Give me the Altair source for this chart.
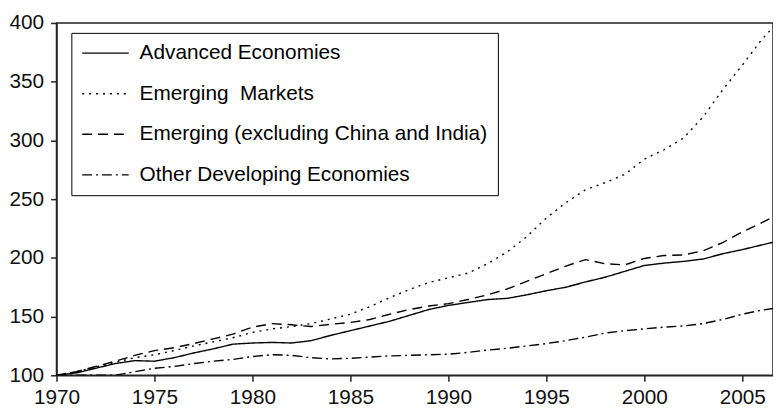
import altair as alt
import pandas as pd

years = list(range(1970, 2008))

advanced = [100, 102, 106, 110, 112.5, 112, 115, 119, 122.5, 126.5,
            127.5, 128, 127.5, 129.5, 134, 138, 142, 146, 151, 156,
            159.5, 162, 164.5, 165.5, 168.5, 172, 175, 179.5, 183.5, 188.5,
            193.5, 195.5, 197, 199, 203.5, 207, 211, 215]

emerging = [100, 103, 107, 111, 115, 117.5, 121, 125, 128.5, 132,
            136.5, 139.5, 141.5, 144, 148, 152, 158.5, 166, 173, 179,
            183, 187, 195, 205, 218, 234, 247, 258, 264, 271,
            284, 292, 302, 320, 343, 364, 386, 404]

emerging_ex = [100, 103, 107.5, 112, 117, 121, 123.5, 127, 131, 135,
               141, 144, 143, 141.5, 143.5, 145, 147.5, 152, 156, 159,
               161, 164.5, 168.5, 173.5, 180, 186.5, 193, 198.5, 195, 194,
               199.5, 202, 202.5, 206, 213, 222, 230, 238]

other_dev = [100, 100, 100, 100, 103, 106, 107.5, 110, 112, 113.5,
             116, 117.5, 117, 115, 114, 114.5, 115.5, 116.5, 117, 117.5,
             118, 119.5, 121.5, 123, 125, 127, 129.5, 132.5, 136, 138,
             139.5, 141, 142, 144, 147.5, 152, 155.5, 158]

names = ["Advanced Economies",
         "Emerging\u00a0 Markets",
         "Emerging (excluding China and India)",
         "Other Developing Economies"]

series_values = [advanced, emerging, emerging_ex, other_dev]

rows = []
for name, vals in zip(names, series_values):
    for y, v in zip(years, vals):
        rows.append({"year": y, "value": v, "series": name})
df = pd.DataFrame(rows)

FONT = "Liberation Sans"

chart = alt.Chart(df).mark_line(clip=True, strokeWidth=1.4, color="black").encode(
    x=alt.X("year:Q",
            scale=alt.Scale(domain=[1970, 2006.57], nice=False, zero=False),
            axis=alt.Axis(values=[1970, 1975, 1980, 1985, 1990, 1995, 2000, 2005],
                          format="d", title=None, labelFlush=False)),
    y=alt.Y("value:Q",
            scale=alt.Scale(domain=[100, 400], nice=False, zero=False),
            axis=alt.Axis(values=[100, 150, 200, 250, 300, 350, 400], title=None,
                          labelFlush=False)),
    strokeDash=alt.StrokeDash(
        "series:N",
        sort=names,
        scale=alt.Scale(domain=names, range=[[1, 0], [2, 5], [10, 6], [10, 4, 2, 4]]),
        legend=alt.Legend(
            title=None, orient="none", legendX=15, legendY=10,
            symbolType="stroke", symbolSize=2209, symbolStrokeColor="black",
            symbolStrokeWidth=1.4, labelFontSize=21, labelFont=FONT,
            labelColor="black", rowPadding=19, padding=10, labelOffset=10,
            strokeColor="black", fillColor="white", labelLimit=500,
            clipHeight=21,
        ),
    ),
    detail="series:N",
).properties(
    width=724, height=356,
    padding={"left": 49, "top": 13, "right": 0, "bottom": 40},
    autosize=alt.AutoSizeParams(type="none"),
).configure_view(
    stroke="#222", strokeWidth=1.5
).configure_axis(
    grid=False, domainColor="#222", domainWidth=1.5, tickColor="#222",
    tickWidth=1.5, tickSize=6, labelFont=FONT, labelFontSize=21,
    labelColor="#111", labelPadding=6,
).configure_axisY(
    labelPadding=7
)

chart.save("out.html", embed_options={"renderer": "svg", "actions": False})
